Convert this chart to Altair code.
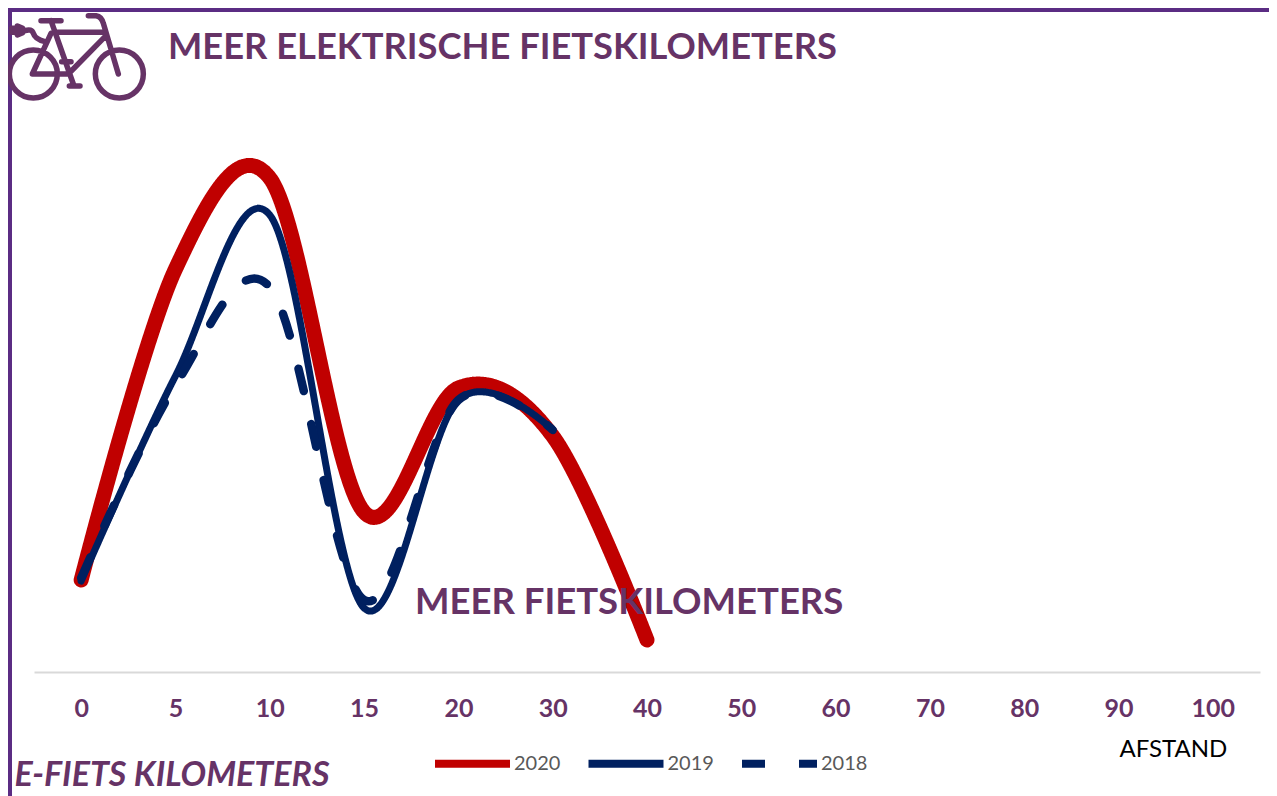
import altair as alt
import pandas as pd

categories = [0, 5, 10, 15, 20, 30, 40, 50, 60, 70, 80, 90, 100]
km_2020 = [92, 403, 494, 160, 284, 236, 32]
km_2019 = [91, 296, 457, 64, 272, 242]
km_2018 = [94, 287, 385, 72, 272, 242]
years = ["2020", "2019", "2018"]
widths = [15, 7, 8.5]
PURPLE = "#663366"
FRAME = "#5b2c83"
FONT = "Lato"

rows = []
for year, vals in zip(years, [km_2020, km_2019, km_2018]):
    for c, v in zip(categories, vals):
        rows.append({"afstand": c, "km": v, "jaar": year})
df = pd.DataFrame(rows)


def circle(cx, cy, r):
    return f"M{cx-r},{cy}A{r},{r},0,1,1,{cx+r},{cy}A{r},{r},0,1,1,{cx-r},{cy}Z"


BIKE = (
    circle(100, 222, 72) + circle(358, 222, 72)
    + "M123,62L183,62M153,62L222,258M208,258L240,258M165,97L310,97"
    + "M265,47L288,47Q305,50,310,70L355,222M318,107L205,222L97,222L153,100M185,185L213,185"
    + "M75,92Q95,85,100,100Q105,118,135,125M35,85L55,85M35,97L55,97"
    + "M52,78L68,85L68,98L52,105Z"
)

legend_opts = dict(
    title=None, orient="none", legendX=397, legendY=714, columns=3, columnPadding=11.5,
    symbolType="stroke", symbolSize=5625, symbolStrokeWidth=8, labelFont=FONT,
    labelFontSize=20, labelColor="#595959", labelOffset=0,
)

x = alt.X(
    "afstand:O",
    scale=alt.Scale(type="point", domain=categories, padding=0.5),
    axis=alt.Axis(
        title="AFSTAND", titleX=1085, titleY=84, titleAlign="left", titleBaseline="alphabetic",
        titleFont=FONT, titleFontSize=24, titleFontWeight="normal", titleColor="#000000",
        labelAngle=0, labelFont=FONT, labelFontSize=25, labelFontWeight="bold",
        labelColor=PURPLE, labelPadding=24, ticks=False, grid=False,
        domainColor="#d9d9d9", domainWidth=2,
    ),
)
y = alt.Y(
    "km:Q",
    scale=alt.Scale(domain=[0, 664], nice=False),
    axis=alt.Axis(
        title="E-FIETS KILOMETERS", titleX=-20, titleY=777, titleAngle=0, titleAlign="left",
        titleBaseline="alphabetic", titleFont=FONT, titleFontSize=34, titleFontWeight="bold",
        titleFontStyle="italic", titleColor=PURPLE, labels=False, ticks=False, domain=False,
        grid=False,
    ),
)


def series(year, width):
    return (
        alt.Chart(df[df["jaar"] == year])
        .mark_line(interpolate="cardinal", tension=0, strokeCap="round", strokeJoin="round", strokeWidth=width)
        .encode(
            x=x,
            y=y,
            color=alt.Color(
                "jaar:N",
                scale=alt.Scale(domain=years, range=["#c00000", "#002060", "#002060"]),
                legend=alt.Legend(**legend_opts),
            ),
            strokeDash=alt.StrokeDash(
                "jaar:N",
                scale=alt.Scale(domain=years, range=[[1, 0], [1, 0], [23, 34]]),
                legend=alt.Legend(**legend_opts),
            ),
        )
    )


lines = [series(yr, w) for yr, w in zip(years, widths)]

note = alt.Chart(pd.DataFrame({"t": ["MEER FIETSKILOMETERS"]})).mark_text(
    align="left", baseline="alphabetic", font=FONT, fontSize=36.5, fontWeight="bold", color=PURPLE
).encode(x=alt.value(381), y=alt.value(606), text="t:N")

frame_top = alt.Chart(pd.DataFrame({"a": [1]})).mark_rule(color=FRAME, strokeWidth=4).encode(
    x=alt.value(-26), x2=alt.value(1235), y=alt.value(2)
)
frame_left = alt.Chart(pd.DataFrame({"a": [1]})).mark_rule(color=FRAME, strokeWidth=4).encode(
    x=alt.value(-24), y=alt.value(0), y2=alt.value(788)
)

icon = alt.Chart(pd.DataFrame({"a": [1]})).mark_point(
    shape=BIKE, filled=False, opacity=1, stroke=PURPLE, strokeWidth=5.5, strokeCap="round", strokeJoin="round"
).encode(x=alt.value(-34), y=alt.value(-8), size=alt.value(4 / 9))

chart = alt.layer(*lines, frame_top, frame_left, icon, note).properties(
    width=1226,
    height=664,
    padding={"left": 26, "top": 0, "right": 9, "bottom": 124},
    autosize=alt.AutoSizeParams(type="none"),
    title=alt.TitleParams(
        "MEER ELEKTRISCHE FIETSKILOMETERS", anchor="start", frame="group", align="left",
        baseline="alphabetic", offset=0, dx=134, dy=89, font=FONT, fontSize=36.3,
        fontWeight="bold", color=PURPLE,
    ),
).configure_view(stroke=None)

chart.save("out.html", embed_options={"renderer": "svg", "actions": False})
